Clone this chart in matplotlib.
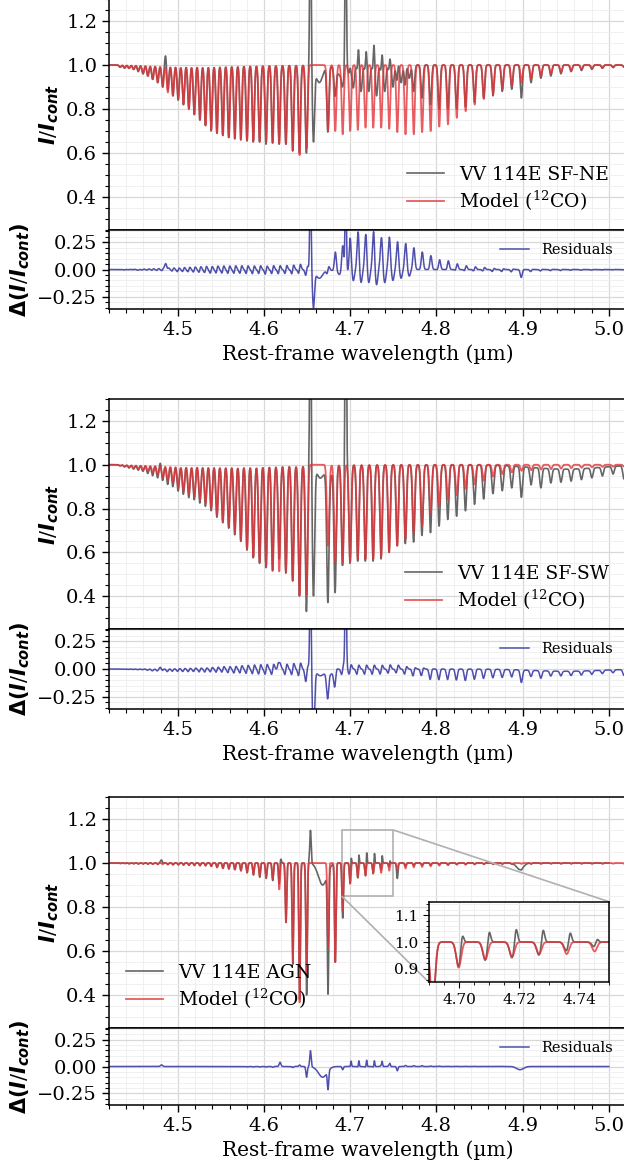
import numpy as np
import matplotlib.pyplot as plt
from matplotlib.ticker import MultipleLocator
from mpl_toolkits.axes_grid1.inset_locator import mark_inset

plt.rcParams['font.family'] = ['DejaVu Serif']
plt.rcParams['mathtext.fontset'] = 'custom'
plt.rcParams['mathtext.rm'] = 'DejaVu Serif'
plt.rcParams['mathtext.it'] = 'DejaVu Sans:italic:bold'
plt.rcParams['mathtext.bf'] = 'DejaVu Sans:bold'

# 12CO v=1-0 line centres (um): R(34)..R(0), then P(1)..P(34)
r_wave = [4.4330, 4.4382, 4.4434, 4.4487, 4.4541, 4.4596, 4.4652, 4.4708, 4.4766,
          4.4824, 4.4883, 4.4943, 4.5004, 4.5065, 4.5128, 4.5191, 4.5256, 4.5321,
          4.5387, 4.5454, 4.5522, 4.5591, 4.5661, 4.5731, 4.5803, 4.5876, 4.5949,
          4.6024, 4.6100, 4.6176, 4.6254, 4.6333, 4.6412, 4.6493, 4.6575]
p_wave = [4.6742, 4.6826, 4.6912, 4.6999, 4.7088, 4.7177, 4.7267, 4.7359, 4.7452,
          4.7546, 4.7641, 4.7737, 4.7834, 4.7933, 4.8033, 4.8134, 4.8236, 4.8339,
          4.8444, 4.8550, 4.8658, 4.8766, 4.8876, 4.8988, 4.9100, 4.9214, 4.9330,
          4.9447, 4.9565, 4.9685, 4.9806, 4.9928, 5.0052, 5.0178]

# --- SF-NE: line depths (1 - I/Icont at line centre)
ne_model_r = [0.01, 0.012, 0.015, 0.02, 0.025, 0.04, 0.05, 0.065, 0.08, 0.10, 0.125,
              0.14, 0.155, 0.18, 0.20, 0.225, 0.25, 0.275, 0.295, 0.31, 0.32, 0.328,
              0.335, 0.34, 0.343, 0.345, 0.348, 0.35, 0.353, 0.357, 0.36, 0.39, 0.41,
              0.38, 0.0]
ne_model_p = [0.30, 0.30, 0.315, 0.30, 0.295, 0.285, 0.285, 0.285, 0.29, 0.305, 0.315,
              0.315, 0.305, 0.30, 0.28, 0.27, 0.24, 0.21, 0.18, 0.155, 0.133, 0.11,
              0.095, 0.08, 0.065, 0.05, 0.042, 0.032, 0.025, 0.02, 0.015, 0.012, 0.01,
              0.008]
ne_obs_r = [0.01, 0.015, 0.015, 0.02, 0.03, 0.04, 0.05, 0.065, 0.08, 0.10, 0.125,
            0.14, 0.16, 0.18, 0.20, 0.225, 0.25, 0.275, 0.30, 0.31, 0.32, 0.33,
            0.335, 0.34, 0.345, 0.35, 0.35, 0.36, 0.355, 0.36, 0.36, 0.39, 0.40,
            0.40, 0.33]
ne_obs_p = [0.30, 0.12, 0.05, 0.05, 0.03, 0.03, 0.03, 0.03, 0.03, 0.08, 0.10, 0.12,
            0.15, 0.18, 0.20, 0.20, 0.20, 0.19, 0.17, 0.15, 0.14, 0.12, 0.11, 0.15,
            0.08, 0.06, 0.05, 0.04, 0.03, 0.025, 0.02, 0.015, 0.012, 0.01]
ne_em_wave = [4.4860, 4.6538, 4.6947, 4.6998, 4.7095, 4.7185, 4.7275, 4.7370, 4.7460,
              4.7555, 4.7650]
ne_em_peak = [0.06, 0.90, 0.80, 0.05, 0.10, 0.09, 0.12, 0.07, 0.05, 0.04, 0.03]
ne_em_width = [0.0012, 0.0008, 0.0008, 0.0008, 0.0008, 0.0008, 0.0008, 0.0008, 0.0008,
               0.0008, 0.0008]
ne_abs_wave = [4.664, 4.690, 4.7035, 4.7125, 4.7215, 4.7305, 4.7400, 4.7495, 4.7590, 4.7685]
ne_abs_depth = [0.08, 0.05, 0.10, 0.12, 0.12, 0.14, 0.12, 0.10, 0.08, 0.06]
ne_abs_width = [0.004, 0.006, 0.0013, 0.0013, 0.0013, 0.0013, 0.0013, 0.0013, 0.0013, 0.0013]

# --- SF-SW
sw_model_r = [0.005, 0.008, 0.012, 0.016, 0.02, 0.025, 0.03, 0.035, 0.045, 0.06, 0.07,
              0.085, 0.105, 0.12, 0.135, 0.148, 0.16, 0.175, 0.20, 0.23, 0.26, 0.28,
              0.31, 0.345, 0.385, 0.42, 0.445, 0.465, 0.48, 0.487, 0.49, 0.53, 0.595,
              0.595, 0.0]
sw_model_p = [0.37, 0.444, 0.45, 0.444, 0.43, 0.43, 0.43, 0.42, 0.40, 0.37, 0.34, 0.31,
              0.28, 0.224, 0.19, 0.16, 0.14, 0.11, 0.09, 0.073, 0.054, 0.043, 0.035,
              0.028, 0.025, 0.022, 0.02, 0.018, 0.016, 0.014, 0.012, 0.01, 0.009, 0.008]
sw_obs_r = [0.005, 0.01, 0.015, 0.02, 0.025, 0.03, 0.04, 0.05, 0.06, 0.075, 0.09,
            0.10, 0.12, 0.135, 0.15, 0.16, 0.175, 0.19, 0.21, 0.24, 0.265, 0.29,
            0.32, 0.35, 0.39, 0.425, 0.45, 0.47, 0.485, 0.49, 0.495, 0.53, 0.60,
            0.67, 0.59]
sw_obs_p = [0.58, 0.57, 0.46, 0.45, 0.44, 0.44, 0.44, 0.43, 0.40, 0.37, 0.36, 0.353,
            0.323, 0.31, 0.28, 0.25, 0.235, 0.21, 0.18, 0.155, 0.13, 0.115, 0.10,
            0.14, 0.08, 0.09, 0.065, 0.06, 0.055, 0.05, 0.045, 0.04, 0.035, 0.06]
sw_em_wave = [4.4800, 4.6165, 4.6538, 4.6947]
sw_em_peak = [0.02, 0.10, 1.00, 1.00]
sw_em_width = [0.0012, 0.0010, 0.0008, 0.0008]
sw_abs_wave = [4.665, 4.676, 4.950]
sw_abs_depth = [0.06, 0.05, 0.02]
sw_abs_width = [0.004, 0.004, 0.040]

# --- AGN
agn_model_r = [0.002, 0.002, 0.003, 0.003, 0.004, 0.004, 0.005, 0.005, 0.006, 0.006,
               0.007, 0.008, 0.008, 0.009, 0.01, 0.011, 0.012, 0.012, 0.015, 0.02,
               0.024, 0.027, 0.03, 0.035, 0.042, 0.05, 0.06, 0.065, 0.073, 0.12, 0.27,
               0.45, 0.634, 0.50, 0.0]
agn_model_p = [0.38, 0.45, 0.22, 0.095, 0.065, 0.055, 0.045, 0.045, 0.035, 0.03, 0.025,
               0.02, 0.018, 0.015, 0.012, 0.01, 0.008, 0.008, 0.007, 0.006, 0.006, 0.005,
               0.005, 0.004, 0.004, 0.004, 0.003, 0.003, 0.003, 0.003, 0.003, 0.003,
               0.003, 0.003]
agn_obs_r = [0.002, 0.002, 0.003, 0.003, 0.004, 0.004, 0.005, 0.005, 0.006, 0.006,
             0.007, 0.008, 0.008, 0.009, 0.01, 0.011, 0.012, 0.012, 0.015, 0.02,
             0.024, 0.027, 0.03, 0.035, 0.045, 0.055, 0.065, 0.07, 0.08, 0.12, 0.27,
             0.46, 0.62, 0.60, 0.0]
agn_obs_p = [0.55, 0.45, 0.25, 0.095, 0.07, 0.06, 0.05, 0.035, 0.02, 0.07, 0.015,
             0.012, 0.01, 0.01, 0.008, 0.008, 0.006, 0.006, 0.005, 0.005, 0.005, 0.004,
             0.004, 0.004, 0.004, 0.003, 0.003, 0.003, 0.003, 0.003, 0.003, 0.003,
             0.003, 0.003]
agn_em_wave = [4.4810, 4.6185, 4.6538, 4.7010, 4.7100, 4.7190, 4.7280, 4.7370, 4.7460]
agn_em_peak = [0.015, 0.04, 0.15, 0.05, 0.055, 0.06, 0.055, 0.045, 0.02]
agn_em_width = [0.0012, 0.0010, 0.0008, 0.0005, 0.0005, 0.0005, 0.0005, 0.0005, 0.0005]
agn_abs_wave = [4.668, 4.897]
agn_abs_depth = [0.10, 0.03]
agn_abs_width = [0.005, 0.004]

wave = np.linspace(4.42, 5.02, 9000)


def lines(centres, depths, sigma, shift=0.0):
    flux = np.ones_like(wave)
    for c, d in zip(centres, depths):
        flux = flux * (1 - d * np.exp(-0.5 * ((wave - c - shift) / sigma) ** 2))
    return flux


def gauss_sum(centres, amps, widths):
    out = np.zeros_like(wave)
    for c, a, w in zip(centres, amps, widths):
        out += a * np.exp(-0.5 * ((wave - c) / w) ** 2)
    return out


panels = [
    dict(label='VV 114E SF-NE', model=(ne_model_r, ne_model_p), obs=(ne_obs_r, ne_obs_p),
         em=(ne_em_wave, ne_em_peak, ne_em_width), ab=(ne_abs_wave, ne_abs_depth, ne_abs_width),
         sigma=0.0012, shift=-0.0002, wmax=5.02, loc='lower right', top=-1, bot=230, rbot=309),
    dict(label='VV 114E SF-SW', model=(sw_model_r, sw_model_p), obs=(sw_obs_r, sw_obs_p),
         em=(sw_em_wave, sw_em_peak, sw_em_width), ab=(sw_abs_wave, sw_abs_depth, sw_abs_width),
         sigma=0.0013, shift=-0.0002, wmax=5.02, loc='lower right', top=399, bot=629, rbot=709),
    dict(label='VV 114E AGN', model=(agn_model_r, agn_model_p), obs=(agn_obs_r, agn_obs_p),
         em=(agn_em_wave, agn_em_peak, agn_em_width), ab=(agn_abs_wave, agn_abs_depth, agn_abs_width),
         sigma=0.0008, shift=0.0, wmax=5.0, loc='lower left', top=797, bot=1028, rbot=1105),
]

W, H = 624, 1168
fig = plt.figure(figsize=(W / 100, H / 100), dpi=100)

grey = '#666666'
red = '#e33539'
blue = '#3c3ca4'


def style(ax, ymajor, yminor):
    ax.xaxis.set_major_locator(MultipleLocator(0.1))
    ax.xaxis.set_minor_locator(MultipleLocator(0.02))
    ax.yaxis.set_major_locator(MultipleLocator(ymajor))
    ax.yaxis.set_minor_locator(MultipleLocator(yminor))
    ax.grid(which='major', color='#d8d8d8', lw=0.9)
    ax.grid(which='minor', color='#eeeeee', lw=0.6)
    ax.set_axisbelow(True)
    ax.tick_params(which='major', direction='out', length=5, width=1, labelsize=14)
    ax.tick_params(which='minor', direction='out', length=3, width=0.8)
    for s in ax.spines.values():
        s.set_linewidth(1.1)


left = 109 / W
width = 517 / W
for p in panels:
    ax = fig.add_axes([left, (H - p['bot']) / H, width, (p['bot'] - p['top']) / H])
    axr = fig.add_axes([left, (H - p['rbot']) / H, width, (p['rbot'] - p['bot']) / H])

    model = lines(r_wave + p_wave, p['model'][0] + p['model'][1], p['sigma'])
    obs = lines(r_wave + p_wave, p['obs'][0] + p['obs'][1], p['sigma'], p['shift']) \
        - gauss_sum(*p['ab']) + gauss_sum(*p['em'])
    keep = wave <= p['wmax'] + 1e-9
    resid = obs - model

    ax.plot(wave[keep], obs[keep], color=grey, lw=1.2, label=p['label'])
    ax.plot(wave, model, color=red, lw=1.3, alpha=0.8, label=r'Model ($^{12}$CO)')
    ax.set_xlim(4.42, 5.02)
    ax.set_ylim(0.25, 1.3)
    style(ax, 0.2, 0.05)
    ax.tick_params(axis='x', which='both', bottom=False, labelbottom=False)
    ax.set_ylabel(r'$\mathit{I/I_{cont}}$', fontsize=15)
    ax.legend(loc=p['loc'], frameon=False, fontsize=13.5, labelspacing=0.25)

    axr.plot(wave[keep], resid[keep], color=blue, lw=1.1, alpha=0.9, label='Residuals')
    axr.set_xlim(4.42, 5.02)
    axr.set_ylim(-0.36, 0.36)
    style(axr, 0.25, 0.05)
    axr.set_ylabel(r'$\mathbf{\Delta(}\mathit{I/I_{cont}}\mathbf{)}$', fontsize=15)
    axr.set_xlabel('Rest-frame wavelength (µm)', fontsize=14.5)
    axr.legend(loc='upper right', frameon=False, fontsize=10.5)

    if p['label'].endswith('AGN'):
        axins = fig.add_axes([429 / W, (H - 982.3) / H, 180 / W, 80.6 / H])
        axins.plot(wave[keep], obs[keep], color=grey, lw=1.2)
        axins.plot(wave, model, color=red, lw=1.3, alpha=0.8)
        axins.set_xlim(4.69, 4.75)
        axins.set_ylim(0.85, 1.15)
        axins.xaxis.set_minor_locator(MultipleLocator(0.005))
        axins.yaxis.set_major_locator(MultipleLocator(0.1))
        axins.yaxis.set_minor_locator(MultipleLocator(0.02))
        axins.grid(which='major', color='#d8d8d8', lw=0.9)
        axins.grid(which='minor', color='#eeeeee', lw=0.6)
        axins.tick_params(which='major', direction='out', length=4, labelsize=11)
        axins.tick_params(which='minor', direction='out', length=2.5)
        axins.set_xticks([4.70, 4.72, 4.74])
        axins.set_xticklabels(['4.70', '4.72', '4.74'])
        for s in axins.spines.values():
            s.set_linewidth(1.1)
        mark_inset(ax, axins, loc1=1, loc2=3, fc='none', ec='#b0b0b0', lw=1.2)

fig.savefig('out.png', dpi=100)
